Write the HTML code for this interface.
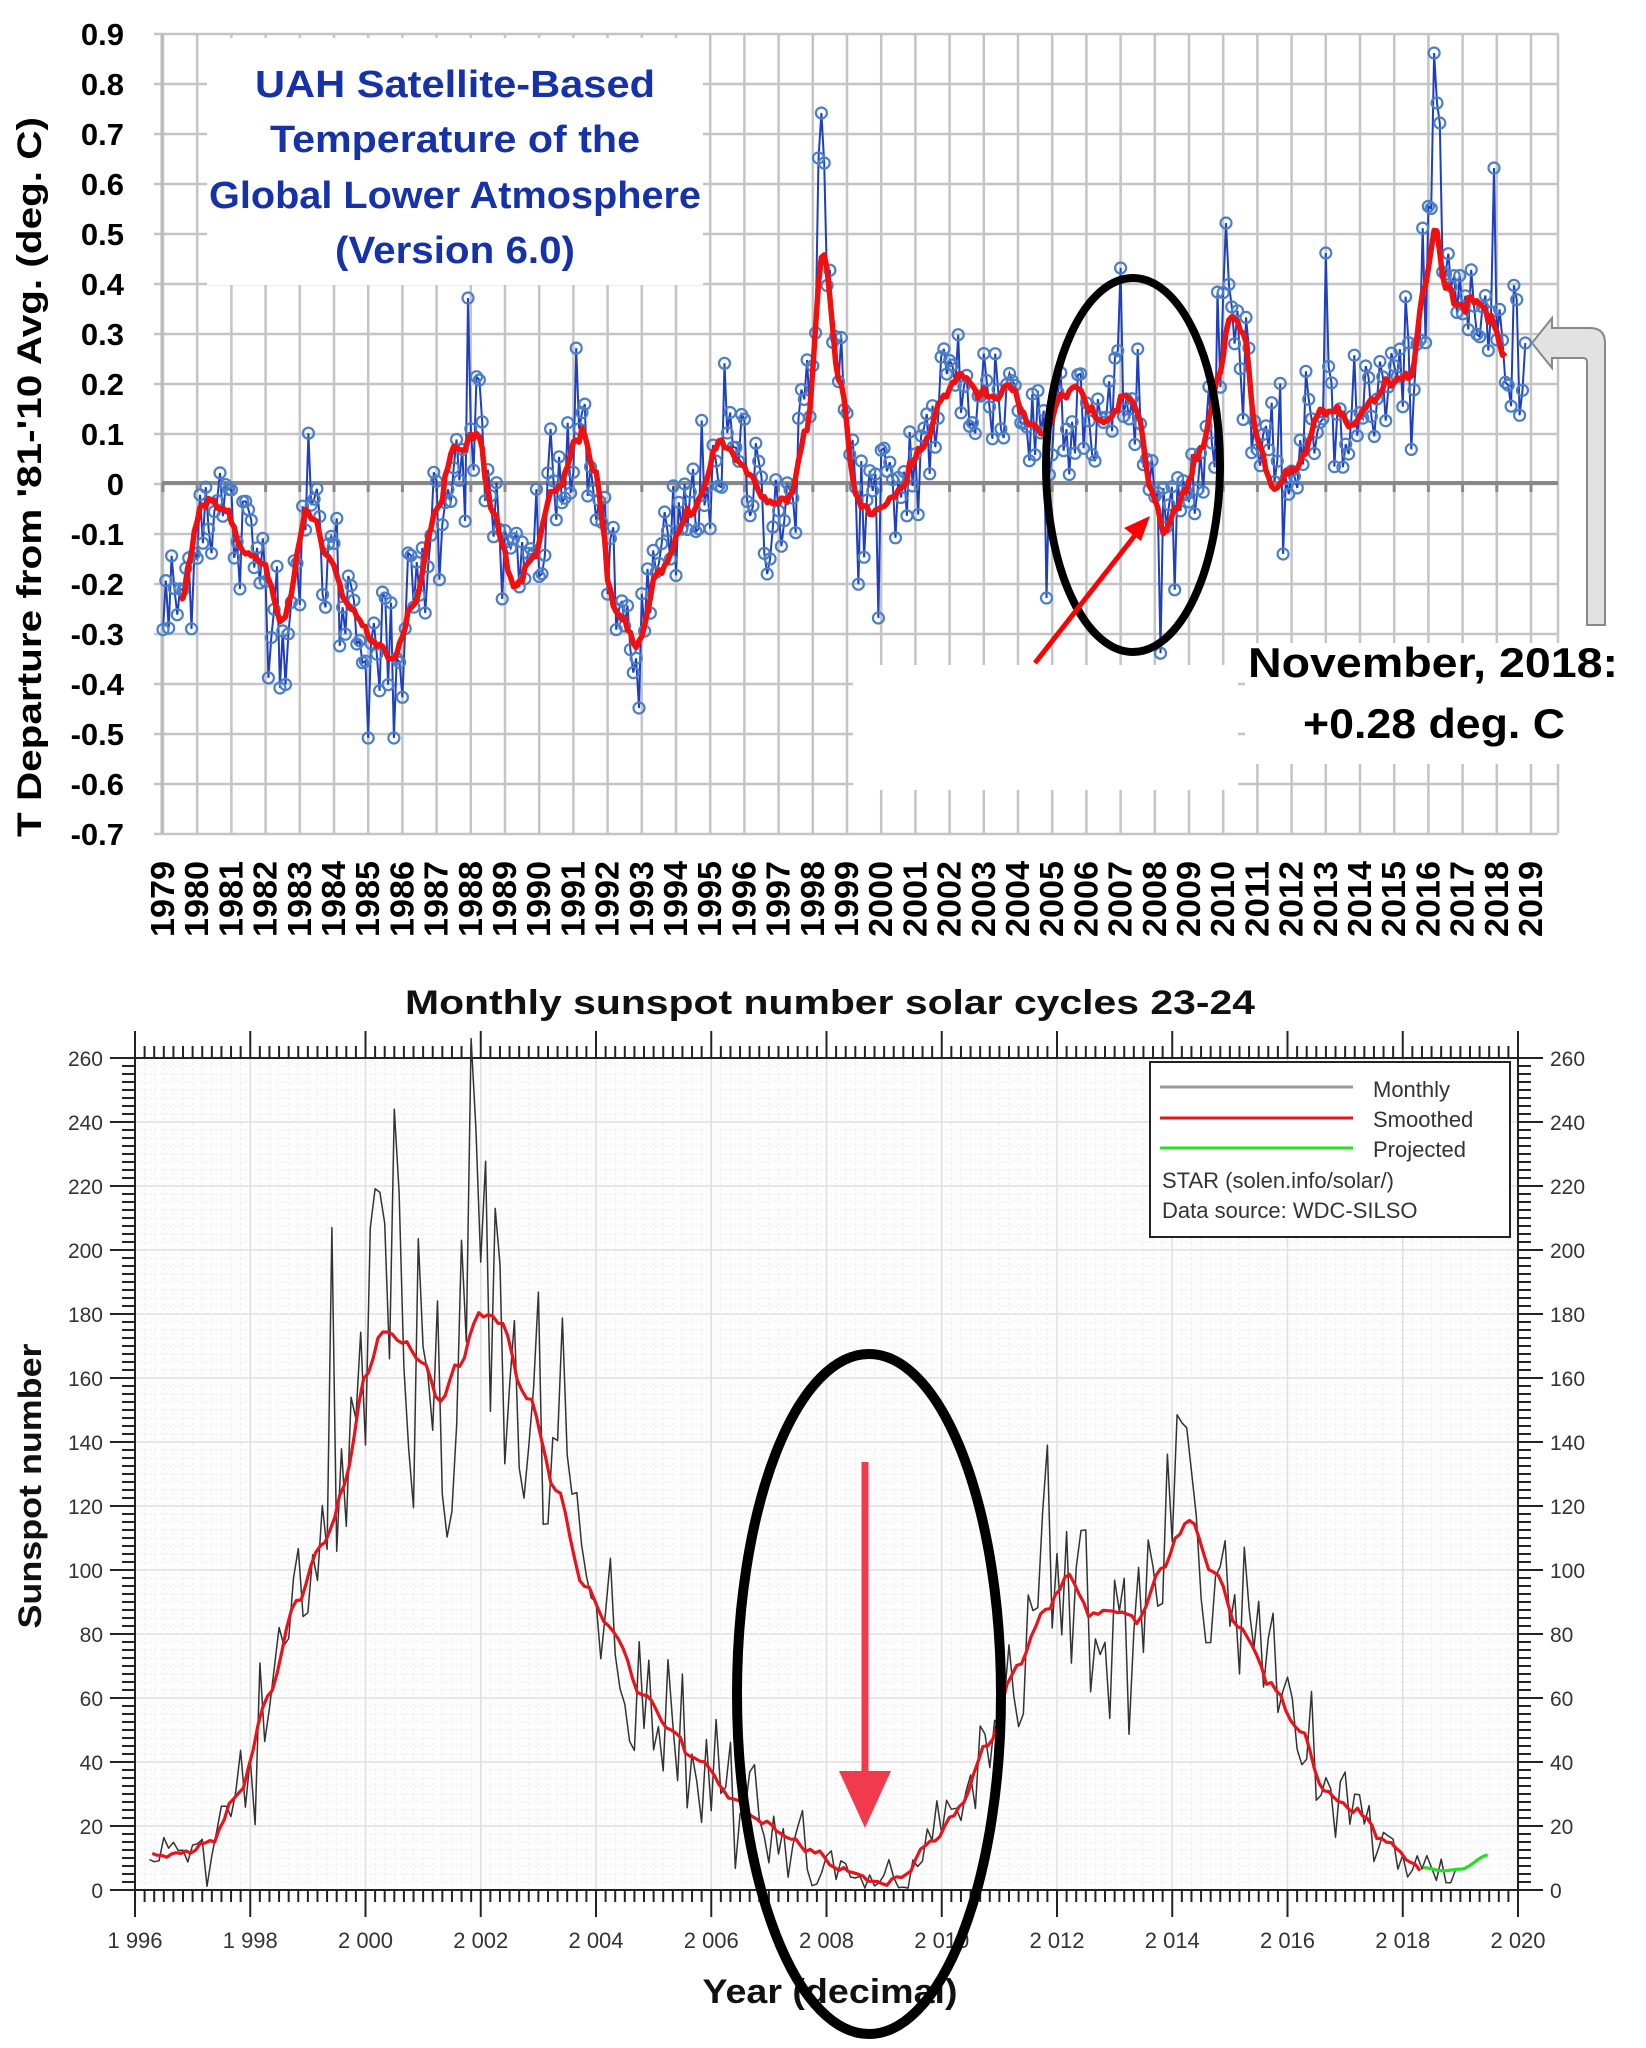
<!DOCTYPE html>
<html><head><meta charset="utf-8"><style>
html,body{margin:0;padding:0;background:#fff;}
svg{display:block;}
</style></head><body>
<svg id="s" width="1646" height="2048" xmlns="http://www.w3.org/2000/svg" font-family="Liberation Sans, sans-serif">
<rect width="1646" height="2048" fill="#fff"/>
<g id="top"></g>
<g id="bot"></g>
<!-- top annotations -->
<rect x="207" y="38" width="496" height="247" fill="#fff"/>
<g font-weight="bold" fill="#1632a8" font-size="38" text-anchor="middle">
<text x="455" y="97" textLength="400" lengthAdjust="spacingAndGlyphs">UAH Satellite-Based</text>
<text x="455" y="152" textLength="370" lengthAdjust="spacingAndGlyphs">Temperature of the</text>
<text x="455" y="208" textLength="492" lengthAdjust="spacingAndGlyphs">Global Lower Atmosphere</text>
<text x="455" y="263" textLength="240" lengthAdjust="spacingAndGlyphs">(Version 6.0)</text>
</g>
<rect x="853" y="665" width="385" height="125" fill="#fff"/>
<rect x="1245" y="643" width="390" height="121" fill="#fff"/>
<g font-weight="bold" fill="#000" font-size="42">
<text x="1248" y="677" textLength="370" lengthAdjust="spacingAndGlyphs">November, 2018:</text>
<text x="1303" y="738" textLength="262" lengthAdjust="spacingAndGlyphs">+0.28 deg. C</text>
</g>
<ellipse cx="1133" cy="465" rx="87" ry="187" fill="none" stroke="#000" stroke-width="8"/>
<line x1="1035" y1="663" x2="1136" y2="534" stroke="#f00" stroke-width="5"/>
<polygon points="1150,516 1124,528 1141,541" fill="#f00"/>
<path d="M1587,625 L1587,362 Q1587,358 1583,358 L1552,358 L1552,368 L1532,343 L1552,318 L1552,328 L1590,328 Q1605,328 1605,343 L1605,625 Z" fill="#e2e2e2" stroke="#888" stroke-width="2"/>
<!-- bottom annotations -->
<ellipse cx="869" cy="1694" rx="132" ry="340" fill="none" stroke="#000" stroke-width="10"/>
<line x1="865" y1="1462" x2="865" y2="1775" stroke="#f23a4e" stroke-width="7"/>
<polygon points="839,1771 891,1771 865,1828" fill="#f23a4e"/>
</svg>
<script>
(function(){
var NS="http://www.w3.org/2000/svg";
function el(p,t,a,txt){var e=document.createElementNS(NS,t);for(var k in a)e.setAttribute(k,a[k]);if(txt!==undefined)e.textContent=txt;p.appendChild(e);return e;}
var seed=12345;function rnd(){seed=(seed*1103515245+12345)%2147483648;return seed/2147483648;}
function gauss(){var u=rnd()+1e-9,v=rnd();return Math.sqrt(-2*Math.log(u))*Math.cos(6.283*v);}
function interp(k,x){if(x<=k[0][0])return k[0][1];for(var i=1;i<k.length;i++){if(x<=k[i][0]){var t=(x-k[i-1][0])/(k[i][0]-k[i-1][0]);t=t*t*(3-2*t);return k[i-1][1]+(k[i][1]-k[i-1][1])*t;}}return k[k.length-1][1];}
/* ---------- TOP ---------- */
var T=document.getElementById('top');
var L=162,R=1558,TOP=34,B=833;
function tx(y){return 163+(y-1979)*34.2;}
function ty(v){return 483-v*500;}
for(var i=0;i<=16;i++){var y=TOP+i*50;el(T,'line',{x1:L-8,x2:R,y1:y,y2:y,stroke:'#c4c4c4','stroke-width':2.5});}
for(var i=0;i<=40;i++){var x=tx(1979+i);el(T,'line',{x1:x,x2:x,y1:TOP,y2:B,stroke:'#c4c4c4','stroke-width':2.5});}
el(T,'line',{x1:R,x2:R,y1:TOP,y2:B,stroke:'#c4c4c4','stroke-width':2.5});
el(T,'line',{x1:L,x2:L,y1:TOP,y2:B,stroke:'#bbb','stroke-width':3});
el(T,'line',{x1:L,x2:R,y1:483,y2:483,stroke:'#888','stroke-width':4});
for(var i=0;i<=40;i++){var x=tx(1979+i);el(T,'line',{x1:x,x2:x,y1:483,y2:492,stroke:'#888','stroke-width':3});}
var yl=['0.9','0.8','0.7','0.6','0.5','0.4','0.3','0.2','0.1','0','-0.1','-0.2','-0.3','-0.4','-0.5','-0.6','-0.7'];
for(var i=0;i<yl.length;i++)el(T,'text',{x:124,y:TOP+i*50+11,'text-anchor':'end','font-size':31,'font-weight':'bold'},yl[i]);
for(var i=0;i<=40;i++){var x=tx(1979+i)+11;el(T,'text',{x:0,y:0,transform:'translate('+x+',937) rotate(-90)','font-size':33,'font-weight':'bold',textLength:76,lengthAdjust:'spacingAndGlyphs'},String(1979+i));}
el(T,'text',{x:0,y:0,transform:'translate(41,477) rotate(-90)','text-anchor':'middle','font-size':34,'font-weight':'bold',textLength:720,lengthAdjust:'spacingAndGlyphs'},"T Departure from '81-'10 Avg. (deg. C)");
var K=[[1979,-0.27],[1979.5,-0.23],[1980.2,-0.03],[1980.8,-0.05],[1981.3,-0.13],[1981.8,-0.15],[1982.5,-0.27],[1983.3,-0.05],[1983.8,-0.15],[1984.5,-0.25],[1985.2,-0.32],[1985.7,-0.35],[1986.3,-0.25],[1987,-0.05],[1987.5,0.06],[1988.2,0.10],[1988.6,-0.05],[1989.3,-0.21],[1989.8,-0.15],[1990.4,-0.02],[1991.3,0.10],[1991.6,0.02],[1992.2,-0.25],[1992.9,-0.32],[1993.5,-0.18],[1994.5,-0.05],[1995.3,0.08],[1996,0.03],[1996.7,-0.04],[1997.3,-0.03],[1997.8,0.10],[1998.3,0.46],[1998.8,0.20],[1999.3,-0.03],[1999.7,-0.06],[2000.5,-0.02],[2001.2,0.07],[2001.8,0.17],[2002.3,0.22],[2002.8,0.18],[2003.3,0.17],[2003.8,0.19],[2004.3,0.12],[2004.8,0.10],[2005.3,0.17],[2005.7,0.19],[2006.2,0.14],[2006.6,0.12],[2007.2,0.18],[2007.5,0.14],[2007.9,-0.02],[2008.3,-0.10],[2008.8,-0.03],[2009.4,0.08],[2009.9,0.22],[2010.2,0.34],[2010.6,0.30],[2011.0,0.08],[2011.5,-0.02],[2011.9,0.02],[2012.3,0.04],[2012.8,0.14],[2013.4,0.15],[2013.8,0.12],[2014.3,0.16],[2014.9,0.20],[2015.5,0.22],[2015.9,0.40],[2016.2,0.51],[2016.5,0.40],[2016.9,0.35],[2017.3,0.37],[2017.8,0.33],[2018.3,0.25],[2018.9,0.22]];
var spec={'1998.25':0.74,'1998.17':0.65,'1998.33':0.64,'2016.17':0.86,'2016.25':0.76,'2016.33':0.72,'2017.92':0.63,'2007.0':0.43,'1987.92':0.37,'1985.0':-0.51,'1985.75':-0.51,'1982.42':-0.41,'1992.92':-0.45,'2013.0':0.46,'2010.08':0.52,'1999.92':-0.27,'2004.83':-0.23,'2018.83':0.28};
var pts=[];
for(var m=0;m<479;m++){var yr=1979+m/12;var v=interp(K,yr)+gauss()*0.075;for(var s in spec){if(Math.abs(parseFloat(s)-yr)<0.04)v=spec[s];}pts.push([tx(yr),ty(v)]);}
var d='M'+pts.map(function(p){return p[0].toFixed(1)+','+p[1].toFixed(1);}).join('L');
el(T,'path',{d:d,fill:'none',stroke:'#1e3fc0','stroke-width':2});
var g=el(T,'g',{fill:'none',stroke:'#4a7fc8','stroke-width':2.2});
pts.forEach(function(p){el(g,'circle',{cx:p[0].toFixed(1),cy:p[1].toFixed(1),r:5.5});});
var rd=[];for(var yr=1979.5;yr<=2018.3;yr+=1/12){rd.push(tx(yr).toFixed(1)+','+ty(interp(K,yr)+gauss()*0.006).toFixed(1));}
el(T,'path',{d:'M'+rd.join('L'),fill:'none',stroke:'#f01010','stroke-width':5.5,'stroke-linejoin':'round'});
/* ---------- BOTTOM ---------- */
var Bt=document.getElementById('bot');
var BL=135,BR=1518,BT=1058,BB=1890;
function bx(y){return BL+(y-1996)*(BR-BL)/24;}
function by(v){return BB-v*(BB-BT)/260;}
el(Bt,'rect',{x:BL,y:BT,width:BR-BL,height:BB-BT,fill:'#fdfdfd'});
for(var v=0;v<=260;v+=2.5){var y=by(v);var maj=(v%20===0);el(Bt,'line',{x1:BL,x2:BR,y1:y,y2:y,stroke:maj?'#e0e0e0':'#ececec','stroke-width':maj?1.5:1,'stroke-dasharray':maj?'':'2,3'});}
for(var t=0;t<=24*6;t++){var x=bx(1996+t/6);var maj=(t%12===0);el(Bt,'line',{x1:x,x2:x,y1:BT,y2:BB,stroke:maj?'#e0e0e0':'#ececec','stroke-width':maj?1.5:1,'stroke-dasharray':maj?'':'2,3'});}
el(Bt,'rect',{x:BL,y:BT,width:BR-BL,height:BB-BT,fill:'none',stroke:'#222','stroke-width':2});
for(var t=0;t<=24*6;t++){var x=bx(1996+t/6);var maj=(t%12===0);el(Bt,'line',{x1:x,x2:x,y1:BB,y2:BB+(maj?27:12),stroke:'#222','stroke-width':2});el(Bt,'line',{x1:x,x2:x,y1:BT,y2:BT-(maj?27:12),stroke:'#222','stroke-width':2});}
for(var v=0;v<=260;v+=2.5){var y=by(v);var maj=(v%20===0);el(Bt,'line',{x1:BL,x2:BL-(maj?25:13),y1:y,y2:y,stroke:'#222','stroke-width':2});el(Bt,'line',{x1:BR,x2:BR+(maj?25:13),y1:y,y2:y,stroke:'#222','stroke-width':2});}
for(var v=0;v<=260;v+=20){var y=by(v)+8;el(Bt,'text',{x:103,y:y,'text-anchor':'end','font-size':21,fill:'#333'},String(v));el(Bt,'text',{x:1550,y:y,'font-size':21,fill:'#333'},String(v));}
for(var yr=1996;yr<=2020;yr+=2){el(Bt,'text',{x:bx(yr),y:1948,'text-anchor':'middle','font-size':22,fill:'#333'},String(yr).charAt(0)+' '+String(yr).slice(1));}
el(Bt,'text',{x:830,y:1014,'text-anchor':'middle','font-size':34,'font-weight':'bold',fill:'#111',textLength:850,lengthAdjust:'spacingAndGlyphs'},'Monthly sunspot number solar cycles 23-24');
el(Bt,'text',{x:830,y:2003,'text-anchor':'middle','font-size':34,'font-weight':'bold',fill:'#111',textLength:255,lengthAdjust:'spacingAndGlyphs'},'Year (decimal)');
el(Bt,'text',{x:0,y:0,transform:'translate(41,1486) rotate(-90)','text-anchor':'middle','font-size':32,'font-weight':'bold',fill:'#111',textLength:285,lengthAdjust:'spacingAndGlyphs'},'Sunspot number');
var S=[[1996.3,11],[1996.8,11],[1997.3,15],[1997.8,30],[1998.3,60],[1998.8,90],[1999.3,110],[1999.6,125],[2000.0,160],[2000.3,175],[2000.6,172],[2001.0,165],[2001.3,152],[2001.6,165],[2002.0,180],[2002.3,178],[2002.8,155],[2003.3,125],[2003.8,95],[2004.3,80],[2004.8,62],[2005.3,50],[2005.8,40],[2006.3,30],[2006.8,22],[2007.3,17],[2007.8,12],[2008.3,6],[2008.9,2],[2009.3,4],[2009.8,15],[2010.3,25],[2010.8,45],[2011.3,70],[2011.8,88],[2012.2,98],[2012.6,86],[2013.0,87],[2013.4,84],[2013.8,100],[2014.3,116],[2014.7,100],[2015.2,82],[2015.7,64],[2016.2,50],[2016.7,30],[2017.2,25],[2017.7,15],[2018.3,7],[2018.9,6]];
var sp={'2000.5':244,'2001.92':238,'1999.42':207,'2000.25':218,'2002.25':213,'2001.67':203,'2014.17':146,'2011.83':139};
var mp=[];seed=999;
for(var yr=1996.25;yr<=2018.95;yr+=1/12){var s=interp(S,yr);var v=s+gauss()*(0.16*s+4);for(var k in sp){if(Math.abs(parseFloat(k)-yr)<0.04)v=sp[k];}if(v<0.5)v=0.5+rnd()*2;mp.push(bx(yr).toFixed(1)+','+by(v).toFixed(1));}
el(Bt,'path',{d:'M'+mp.join('L'),fill:'none',stroke:'#333','stroke-width':1.5,'stroke-linejoin':'round'});
var sm=[];for(var yr=1996.3;yr<=2018.35;yr+=1/12){sm.push(bx(yr).toFixed(1)+','+by(interp(S,yr)+gauss()*0.8).toFixed(1));}
el(Bt,'path',{d:'M'+sm.join('L'),fill:'none',stroke:'#e8141c','stroke-width':3.2,'stroke-linejoin':'round'});
var G=[[2018.35,7],[2018.7,6],[2019.0,6.5],[2019.5,11]];var gp=[];for(var yr=2018.35;yr<=2019.5;yr+=1/24)gp.push(bx(yr).toFixed(1)+','+by(interp(G,yr)).toFixed(1));
el(Bt,'path',{d:'M'+gp.join('L'),fill:'none',stroke:'#22e022','stroke-width':3.2});
/* legend */
el(Bt,'rect',{x:1150,y:1062,width:360,height:175,fill:'#fff',stroke:'#222','stroke-width':2});
el(Bt,'line',{x1:1160,x2:1353,y1:1087,y2:1087,stroke:'#999','stroke-width':3});
el(Bt,'line',{x1:1160,x2:1353,y1:1118,y2:1118,stroke:'#e8141c','stroke-width':3});
el(Bt,'line',{x1:1160,x2:1353,y1:1148,y2:1148,stroke:'#22e022','stroke-width':3});
var lt=[[1373,1097,'Monthly'],[1373,1127,'Smoothed'],[1373,1157,'Projected'],[1162,1188,'STAR (solen.info/solar/)'],[1162,1218,'Data source: WDC-SILSO']];
lt.forEach(function(a){el(Bt,'text',{x:a[0],y:a[1],'font-size':22,fill:'#333'},a[2]);});
})();
</script>
</body></html>
